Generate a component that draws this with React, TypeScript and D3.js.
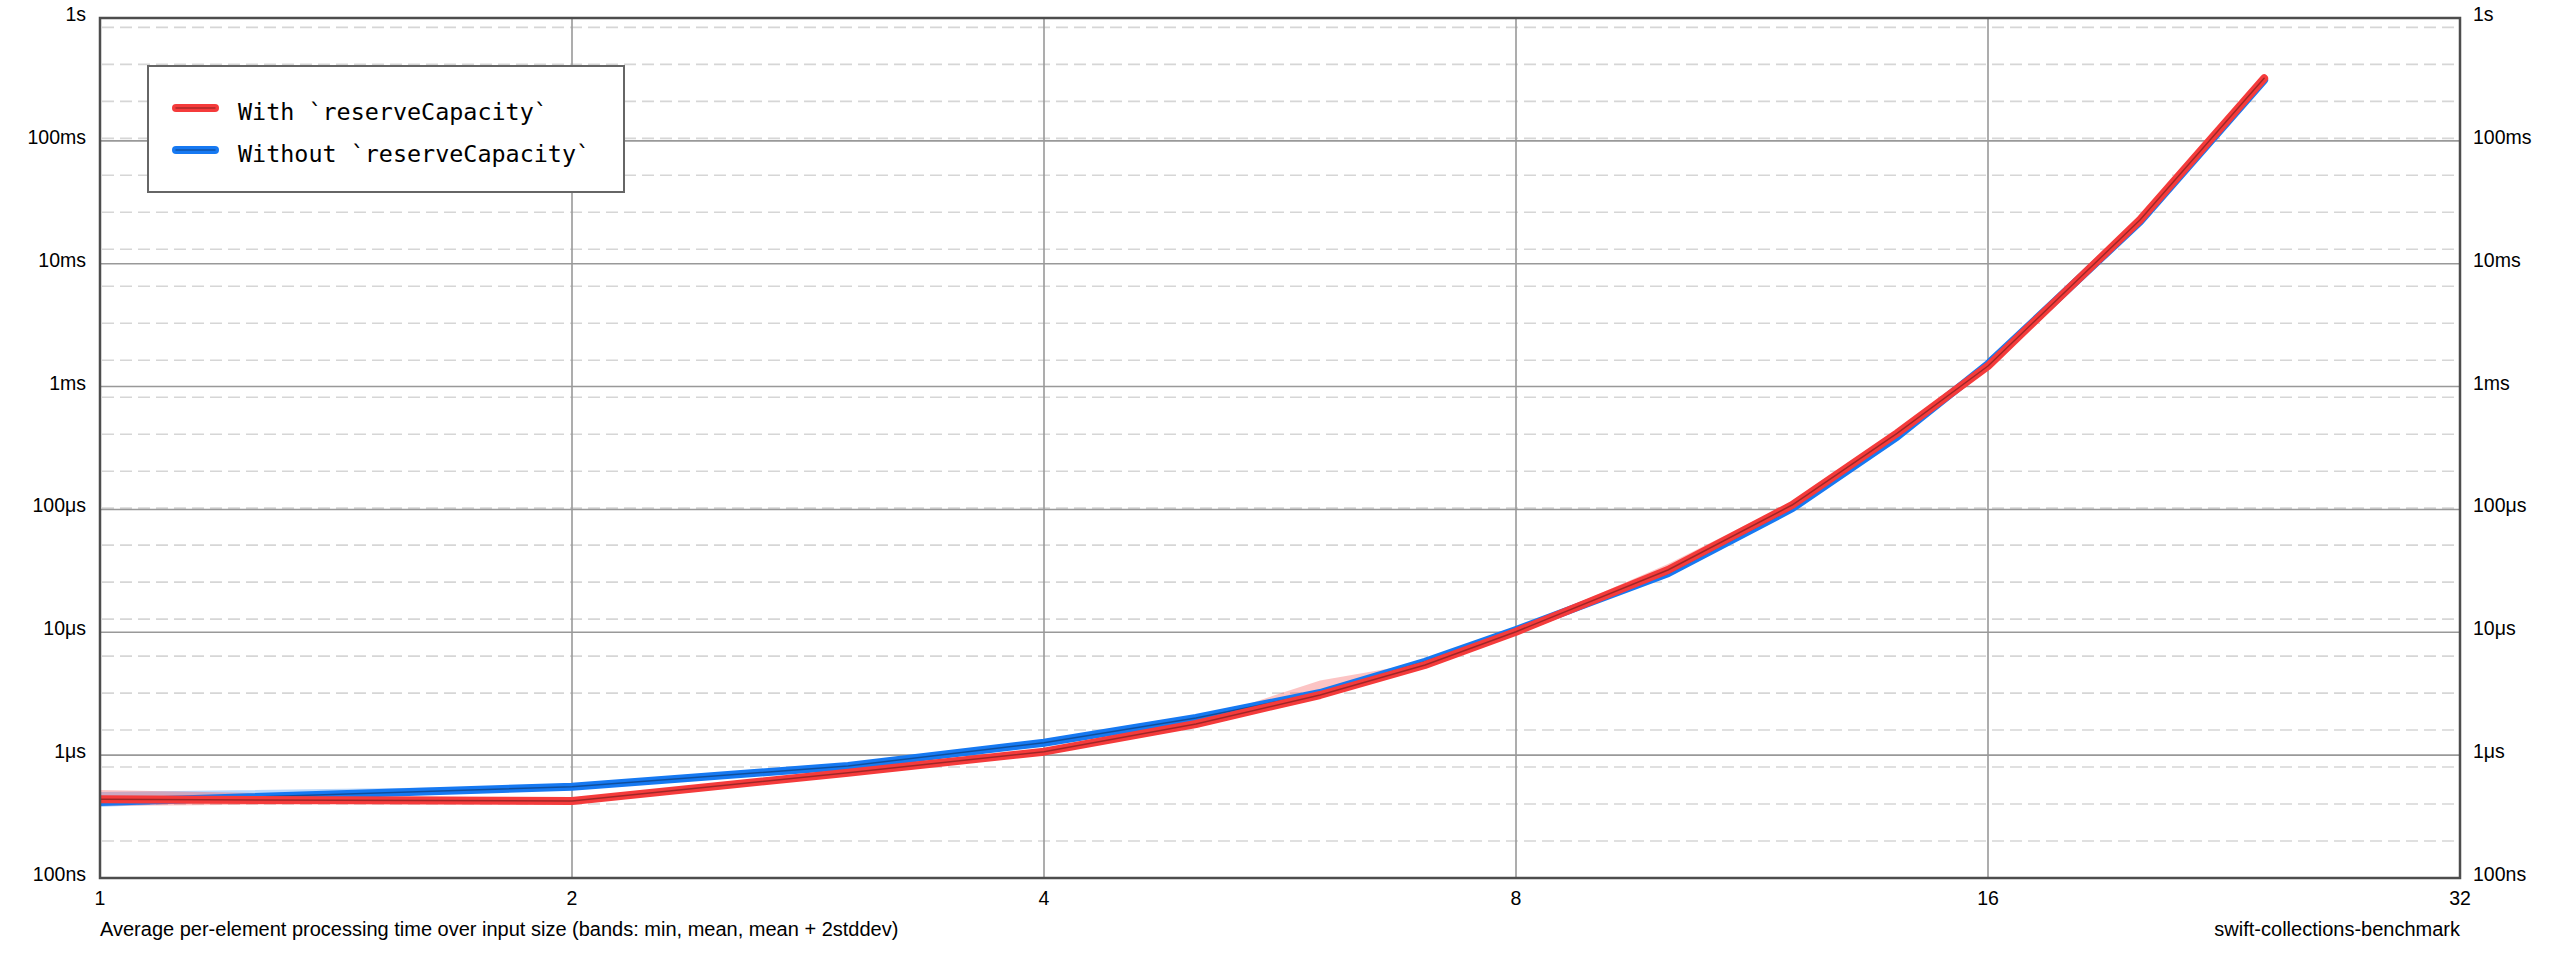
import * as d3 from 'd3';

// input sizes (x axis, log2)
const sizes = [1, 2, 3, 4, 5, 6, 7, 8, 10, 12, 14, 16, 20, 24];

// average per-element time, in nanoseconds
const withMean = [437, 423, 720, 1067, 1793, 3087, 5417, 10110, 32140, 108600, 416600, 1470000, 22690000, 322800000];
const withMin = [385, 415, 705, 1045, 1760, 3030, 5330, 9950, 31500, 106500, 409000, 1445000, 22300000, 318000000];
const withHigh = [520, 440, 745, 1100, 1900, 4050, 5700, 10500, 36000, 115000, 430000, 1510000, 23500000, 330000000];

const withoutMean = [416, 554, 816, 1262, 2006, 3205, 5761, 10440, 30200, 102100, 390800, 1526000, 21980000, 312700000];
const withoutMin = [378, 545, 800, 1240, 1970, 3150, 5660, 10250, 29700, 100300, 384000, 1500000, 21600000, 307000000];
const withoutHigh = [501, 565, 835, 1290, 2050, 3280, 5880, 10650, 30800, 104000, 398000, 1555000, 22400000, 318000000];

const xTicks = [1, 2, 4, 8, 16, 32];
const yTicks = [1e2, 1e3, 1e4, 1e5, 1e6, 1e7, 1e8, 1e9];
const yTickLabels = ['100ns', '1μs', '10μs', '100μs', '1ms', '10ms', '100ms', '1s'];

const seriesNames = ['With `reserveCapacity`', 'Without `reserveCapacity`'];
const seriesColors = ['#f53b3b', '#1679f2'];

const W = 2560;
const H = 960;
const margin = { top: 18, right: 100, bottom: 82, left: 100 };
const sansFont = '"Liberation Sans", Arial, Helvetica, sans-serif';
const monoFont = '"DejaVu Sans Mono", monospace';

export default function App() {
  const x = d3.scaleLog().base(2).domain([1, 32]).range([margin.left, W - margin.right]);
  const y = d3.scaleLog().domain([1e2, 1e9]).range([H - margin.bottom, margin.top]);
  const x0 = x.range()[0];
  const x1 = x.range()[1];
  const y0 = y.range()[0];
  const y1 = y.range()[1];

  // minor grid: every power of two above 100ns
  const minorTicks = d3.range(1, 30).map((k) => 100 * 2 ** k).filter((v) => v < 1e9);

  const series = [
    { mean: withMean, min: withMin, high: withHigh },
    { mean: withoutMean, min: withoutMin, high: withoutHigh },
  ];

  const bandPath = (s: { mean: number[]; min: number[]; high: number[] }) =>
    d3
      .area<number>()
      .x((_, i) => x(sizes[i]))
      .y0((_, i) => y(s.min[i]))
      .y1((_, i) => y(s.high[i]))(s.mean);

  const line = d3
    .line<number>()
    .x((_, i) => x(sizes[i]))
    .y((d) => y(d));

  // draw blue first so red lies on top
  const order = [1, 0];

  return (
    <svg
      width={W}
      height={H}
      style={{ position: 'absolute', left: 0, top: 0, background: '#fff' }}
    >
      <defs>
        <clipPath id="plot-clip">
          <rect x={x0} y={y1} width={x1 - x0} height={y0 - y1} />
        </clipPath>
      </defs>
      <rect x={0} y={0} width={W} height={H} fill="#fff" />

      {/* minor dashed grid */}
      <g>
        {minorTicks.map((v) => (
          <line
            key={'m' + v}
            x1={x0 + 2}
            x2={x1 - 2}
            y1={y(v)}
            y2={y(v)}
            stroke="#d6d6d6"
            strokeWidth={1.6}
            strokeDasharray="12,6"
          />
        ))}
      </g>

      {/* major grid */}
      <g>
        {yTicks.slice(1, -1).map((v) => (
          <line key={'y' + v} x1={x0} x2={x1} y1={y(v)} y2={y(v)} stroke="#999" strokeWidth={1.6} />
        ))}
        {xTicks.slice(1, -1).map((v) => (
          <line key={'x' + v} x1={x(v)} x2={x(v)} y1={y1} y2={y0} stroke="#999" strokeWidth={1.6} />
        ))}
      </g>

      {/* bands and lines */}
      <g clipPath="url(#plot-clip)">
        {order.map((i) => (
          <path key={'b' + i} d={bandPath(series[i]) || ''} fill={seriesColors[i]} opacity={0.3} />
        ))}
        {order.map((i) => (
          <g key={'l' + i}>
            <path
              d={line(series[i].mean) || ''}
              fill="none"
              stroke={seriesColors[i]}
              strokeWidth={8}
              strokeLinecap="round"
              strokeLinejoin="round"
            />
            <path
              d={line(series[i].mean) || ''}
              fill="none"
              stroke="#000"
              strokeOpacity={0.35}
              strokeWidth={1.5}
              strokeLinecap="round"
              strokeLinejoin="round"
            />
          </g>
        ))}
      </g>

      {/* frame */}
      <rect x={x0} y={y1} width={x1 - x0} height={y0 - y1} fill="none" stroke="#4d4d4d" strokeWidth={2.5} />

      {/* tick labels and captions */}
      <g fontFamily={sansFont} fontSize={19.5} fill="#000">
        {yTicks.map((v, i) => (
          <text key={'yl' + v} x={x0 - 14} y={y(v) + 3} textAnchor="end">
            {yTickLabels[i]}
          </text>
        ))}
        {yTicks.map((v, i) => (
          <text key={'yr' + v} x={x1 + 13} y={y(v) + 3} textAnchor="start">
            {yTickLabels[i]}
          </text>
        ))}
        {xTicks.map((v) => (
          <text key={'xl' + v} x={x(v)} y={y0 + 27} textAnchor="middle">
            {v}
          </text>
        ))}
      </g>
      <g fontFamily={sansFont} fontSize={20} fill="#000">
        <text x={x0} y={y0 + 58} textAnchor="start">
          Average per-element processing time over input size (bands: min, mean, mean + 2stddev)
        </text>
        <text x={x1} y={y0 + 58} textAnchor="end">
          swift-collections-benchmark
        </text>
      </g>

      {/* legend */}
      <g>
        <rect x={148} y={66} width={476} height={126} fill="#fff" stroke="#666" strokeWidth={2} />
        {seriesNames.map((name, i) => (
          <g key={name}>
            <line
              x1={176}
              x2={215}
              y1={108 + i * 42}
              y2={108 + i * 42}
              stroke={seriesColors[i]}
              strokeWidth={8}
              strokeLinecap="round"
            />
            <line
              x1={176}
              x2={215}
              y1={108 + i * 42}
              y2={108 + i * 42}
              stroke="#000"
              strokeOpacity={0.3}
              strokeWidth={1.5}
              strokeLinecap="round"
            />
            <text x={238} y={120 + i * 42} fontFamily={monoFont} fontSize={23.4} fill="#000">
              {name}
            </text>
          </g>
        ))}
      </g>
    </svg>
  );
}
